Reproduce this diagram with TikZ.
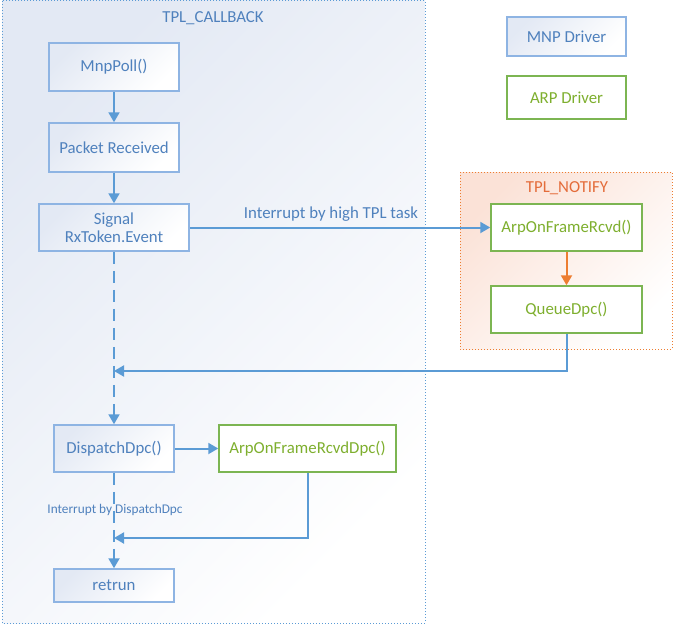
\documentclass[tikz,border=0pt]{standalone}
\usepackage{fontspec}
\setmainfont{Carlito}
\usetikzlibrary{arrows.meta}
\definecolor{lblue}{HTML}{5B9BD5}
\definecolor{bborder}{HTML}{8EB4E3}
\definecolor{tblue}{HTML}{4F81BD}
\definecolor{lgreen}{HTML}{7CB552}
\definecolor{tgreen}{HTML}{7EAF2E}
\definecolor{orng}{HTML}{ED7D31}
\definecolor{tornge}{HTML}{E46C3A}
\definecolor{bgblue}{HTML}{E3E9F4}
\definecolor{bgpink}{HTML}{FBE2D7}
\begin{document}
\begin{tikzpicture}[x=1pt,y=-1pt,
  every node/.style={font=\fontsize{16.8}{19}\selectfont},
  bluebox/.style={draw=bborder, line width=1.5pt, top color=bgblue, bottom color=white, shading angle=45, text=tblue, align=center, inner sep=2pt},
  greenbox/.style={draw=lgreen, line width=1.5pt, fill=white, text=tgreen, align=center, inner sep=2pt},
  conn/.style={draw=lblue, line width=2pt, -{Triangle[length=10pt,width=11pt]}},
  dconn/.style={conn, dash pattern=on 12pt off 7pt},
  oconn/.style={draw=orng, line width=2pt, -{Triangle[length=10pt,width=11pt]}},
]
\useasboundingbox (0,0) rectangle (674,626);
% containers
\path[draw=lblue, line width=1pt, dotted, top color=bgblue, middle color=white!60!bgblue, bottom color=white, shading angle=45] (2,1) rectangle (425,623);
\node[text=tblue] (cbtitle) at (213,18) {TPL\_CALLBACK};
\path[draw=orng, line width=1pt, dotted, top color=bgpink, middle color=white!60!bgpink, bottom color=white, shading angle=45] (460,172) rectangle (672,349);
\node[text=tornge] (ntitle) at (567,188) {TPL\_NOTIFY};
% legend
\node[bluebox, minimum width=119pt, minimum height=39pt] (mnpdrv) at (566.5,36.5) {MNP Driver};
\node[greenbox, minimum width=119pt, minimum height=43pt] (arpdrv) at (566.5,97.5) {ARP Driver};
% nodes
\node[bluebox, minimum width=130pt, minimum height=48pt] (mnp) at (114,67) {MnpPoll()};
\node[bluebox, minimum width=130pt, minimum height=49pt] (pkt) at (114,147.5) {Packet Received};
\node[bluebox, minimum width=150pt, minimum height=47pt, font=\fontsize{16.8}{18.5}\selectfont] (sig) at (114,227.5) {Signal\\RxToken.Event};
\node[greenbox, minimum width=151pt, minimum height=47pt] (arp) at (566.5,227.5) {ArpOnFrameRcvd()};
\node[greenbox, minimum width=151pt, minimum height=47pt] (queue) at (566.5,309.5) {QueueDpc()};
\node[bluebox, minimum width=120pt, minimum height=47pt] (disp) at (114,448.5) {DispatchDpc()};
\node[greenbox, minimum width=177pt, minimum height=47pt] (arpdpc) at (307.5,448.5) {ArpOnFrameRcvdDpc()};
\node[bluebox, minimum width=120pt, minimum height=33pt] (ret) at (114,585.5) {retrun};
\coordinate (j1) at (114,371);
\coordinate (j2) at (114,538);
% connectors
\draw[conn] (mnp) -- (pkt);
\draw[conn] (pkt) -- (sig);
\draw[conn] (sig.east) -- (arp.west);
\node[text=tblue] (lbl1) at (331,214) {Interrupt by high TPL task};
\draw[oconn] (arp) -- (queue);
\draw[conn] (queue.south) |- (j1);
\draw[dconn] (sig.south) -- (disp.north);
\draw[conn] (disp) -- (arpdpc);
\draw[conn] (arpdpc.south) |- (j2);
\draw[dconn] (disp.south) -- (ret.north);
\node[text=tblue, font=\fontsize{13.3}{15}\selectfont] (lbl2) at (115,510) {Interrupt by DispatchDpc};
\end{tikzpicture}
\end{document}
